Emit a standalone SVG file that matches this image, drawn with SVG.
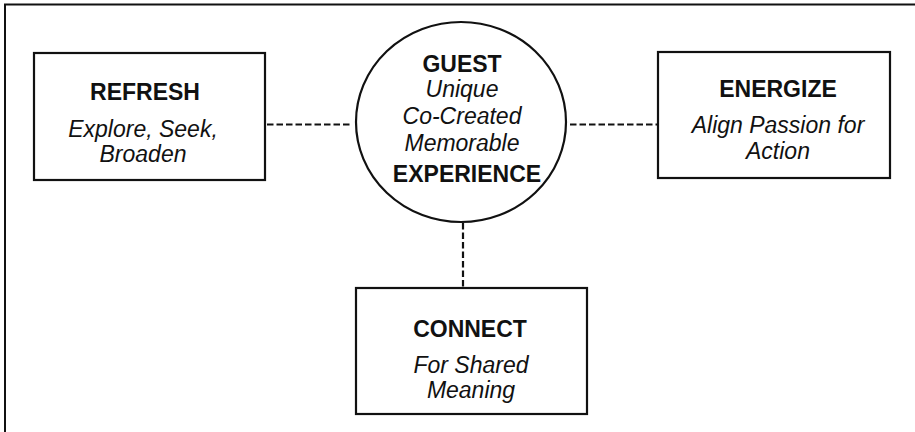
<svg xmlns="http://www.w3.org/2000/svg" width="915" height="432" viewBox="0 0 915 432">
  <style>
    .box { fill: #fff; stroke: #111; stroke-width: 2.2; }
    .link { stroke: #111; stroke-width: 2.2; stroke-dasharray: 6.5 3; fill: none; }
    .title { font-family: "Liberation Sans", Arial, sans-serif; font-weight: bold; font-size: 23px; fill: #111; text-anchor: middle; }
    .sub { font-family: "Liberation Sans", Arial, sans-serif; font-style: italic; font-size: 23px; fill: #111; text-anchor: middle; }
  </style>
  <rect x="0" y="0" width="915" height="432" fill="#fff"/>
  <!-- outer frame: top and left edges only -->
  <path d="M5 432 V4.5 H915" fill="none" stroke="#111" stroke-width="2"/>

  <g id="connectors">
    <line class="link" x1="267" y1="124.5" x2="352" y2="124.5"/>
    <line class="link" x1="570" y1="124.5" x2="657" y2="124.5"/>
    <line class="link" x1="463" y1="223" x2="463" y2="288"/>
  </g>

  <g id="guest">
    <ellipse class="box" cx="461" cy="122" rx="105" ry="100"/>
    <text class="title" x="462" y="72">GUEST</text>
    <text class="sub" x="462" y="97">Unique</text>
    <text class="sub" x="462" y="124">Co-Created</text>
    <text class="sub" x="462" y="151">Memorable</text>
    <text class="title" x="467" y="182">EXPERIENCE</text>
  </g>

  <g id="refresh">
    <rect class="box" x="34" y="53" width="231" height="127"/>
    <text class="title" x="145" y="100">REFRESH</text>
    <text class="sub" x="143" y="137">Explore, Seek,</text>
    <text class="sub" x="143" y="162">Broaden</text>
  </g>

  <g id="energize">
    <rect class="box" x="658" y="52" width="232" height="126"/>
    <text class="title" x="778" y="97">ENERGIZE</text>
    <text class="sub" x="778" y="133">Align Passion for</text>
    <text class="sub" x="778" y="159">Action</text>
  </g>

  <g id="connect">
    <rect class="box" x="356" y="288" width="231" height="126"/>
    <text class="title" x="470" y="337">CONNECT</text>
    <text class="sub" x="471" y="373">For Shared</text>
    <text class="sub" x="471" y="398">Meaning</text>
  </g>
</svg>
